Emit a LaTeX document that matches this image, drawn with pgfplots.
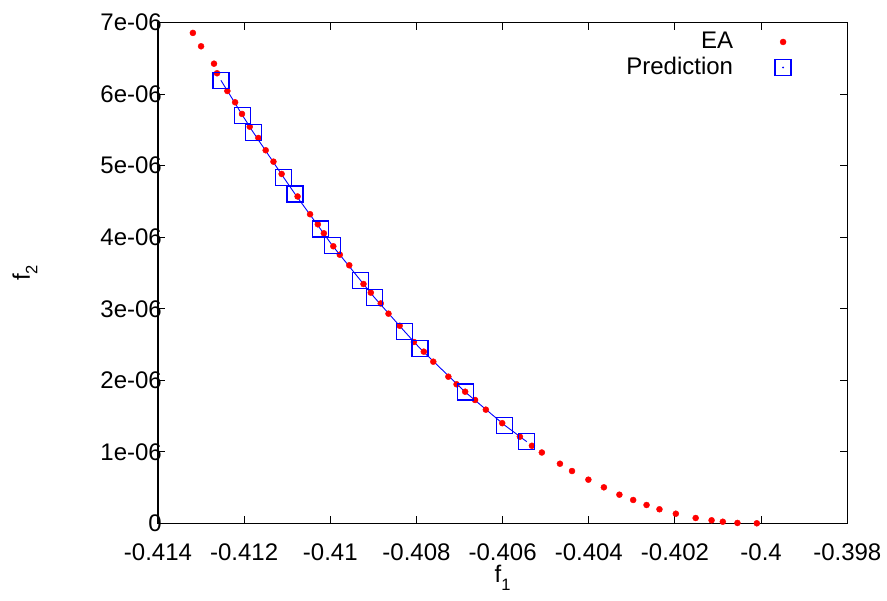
\documentclass[border=0pt]{standalone}
\usepackage{pgfplots}
\pgfplotsset{compat=1.18}
\usepackage{fontspec}
\setmainfont{Liberation Sans}
\definecolor{eared}{RGB}{255,0,0}
\definecolor{predblue}{RGB}{0,0,255}
\newcommand{\sub}[1]{\raisebox{-0.32em}{\fontsize{16.5}{16.5}\selectfont #1}}
\pgfplotsset{predlegend/.style={legend image code/.code={\draw[mark repeat=2,mark phase=2,##1] plot coordinates {(0cm,0cm) (0.3cm,0cm) (0.6cm,0cm)}; \fill[predblue] (0.3cm,0cm) circle (0.7pt);}}}
\begin{document}
\fontsize{24}{28}\selectfont
\begin{tikzpicture}
\path[use as bounding box] (-158pt,-77.7pt) rectangle (729pt,523.3pt);
\begin{axis}[
  scale only axis, width=689.3pt, height=500.6pt,
  at={(0,0)}, anchor=south west,
  xmin=-0.414, xmax=-0.398, ymin=0, ymax=7e-6,
  clip=false,
  axis line style={black, line width=1.3pt},
  major tick length=7pt,
  tick style={black, line width=1pt},
  xtick={-0.414,-0.412,-0.410,-0.408,-0.406,-0.404,-0.402,-0.400,-0.398},
  xticklabels={-0.414,-0.412,-0.41,-0.408,-0.406,-0.404,-0.402,-0.4,-0.398},
  ytick={0,1e-6,2e-6,3e-6,4e-6,5e-6,6e-6,7e-6},
  yticklabels={0,1e-06,2e-06,3e-06,4e-06,5e-06,6e-06,7e-06},
  scaled x ticks=false, scaled y ticks=false,
  xticklabel style={yshift=-12pt},
  yticklabel style={xshift=12pt},
  xlabel={f\sub{1}}, ylabel={f\sub{2}},
  xlabel style={at={(axis description cs:0.5,-0.109)}, anchor=center},
  ylabel style={at={(axis description cs:-0.193,0.5)}, anchor=center},
  legend style={draw=none, fill=none, at={(axis description cs:1,1)}, anchor=north east,
    xshift=-53pt, yshift=-5pt, font=\fontsize{24}{28}\selectfont,
    /tikz/every odd column/.append style={column sep=40pt},
    row sep=1pt},
  legend plot pos=right,
  legend cell align=right,
]
\addplot[only marks, mark=*, mark size=3pt, color=eared, mark options={draw=eared, fill=eared}] coordinates {
(-0.41319,6.857e-6) (-0.41300,6.670e-6) (-0.41270,6.427e-6) (-0.41263,6.293e-6)
(-0.41239,6.045e-6) (-0.41221,5.887e-6) (-0.41205,5.724e-6) (-0.41187,5.546e-6)
(-0.41167,5.388e-6) (-0.41150,5.216e-6) (-0.41132,5.057e-6) (-0.41113,4.885e-6)
(-0.41076,4.570e-6) (-0.41047,4.322e-6) (-0.41029,4.181e-6) (-0.41015,4.055e-6)
(-0.40993,3.874e-6) (-0.40978,3.756e-6) (-0.40956,3.608e-6) (-0.40923,3.346e-6)
(-0.40906,3.225e-6) (-0.40883,3.074e-6) (-0.40865,2.931e-6) (-0.40839,2.762e-6)
(-0.40806,2.535e-6) (-0.40783,2.400e-6) (-0.40761,2.260e-6) (-0.40726,2.050e-6)
(-0.40707,1.944e-6) (-0.40687,1.840e-6) (-0.40664,1.724e-6) (-0.40639,1.589e-6)
(-0.40601,1.400e-6) (-0.40560,1.211e-6) (-0.40532,1.084e-6) (-0.40509,0.990e-6)
(-0.40467,0.833e-6) (-0.40439,0.731e-6) (-0.40401,0.610e-6) (-0.40365,0.503e-6)
(-0.40329,0.400e-6) (-0.40297,0.326e-6) (-0.40266,0.256e-6) (-0.40236,0.196e-6)
(-0.40198,0.134e-6) (-0.40152,0.074e-6) (-0.40115,0.042e-6) (-0.40089,0.022e-6)
(-0.40055,0.005e-6) (-0.40010,0.000e-6)
};
\addlegendentry{EA}
\addplot[predblue, line width=0.9pt, forget plot] coordinates {
(-0.41254,6.195e-6) (-0.41204,5.706e-6) (-0.41179,5.468e-6) (-0.41108,4.833e-6)
(-0.41082,4.605e-6) (-0.41023,4.116e-6) (-0.40995,3.882e-6) (-0.40930,3.398e-6)
(-0.40898,3.160e-6) (-0.40828,2.685e-6) (-0.40792,2.447e-6) (-0.40687,1.836e-6)
(-0.40595,1.370e-6) (-0.40544,1.141e-6)
};
\addplot[only marks, mark=square, mark size=8pt, color=predblue, mark options={line width=1.3pt}, predlegend] coordinates {
(-0.41254,6.195e-6) (-0.41204,5.706e-6) (-0.41179,5.468e-6) (-0.41108,4.833e-6)
(-0.41082,4.605e-6) (-0.41023,4.116e-6) (-0.40995,3.882e-6) (-0.40930,3.398e-6)
(-0.40898,3.160e-6) (-0.40828,2.685e-6) (-0.40792,2.447e-6) (-0.40687,1.836e-6)
(-0.40595,1.370e-6) (-0.40544,1.141e-6)
};
\addlegendentry{Prediction}
\end{axis}
\end{tikzpicture}
\end{document}
